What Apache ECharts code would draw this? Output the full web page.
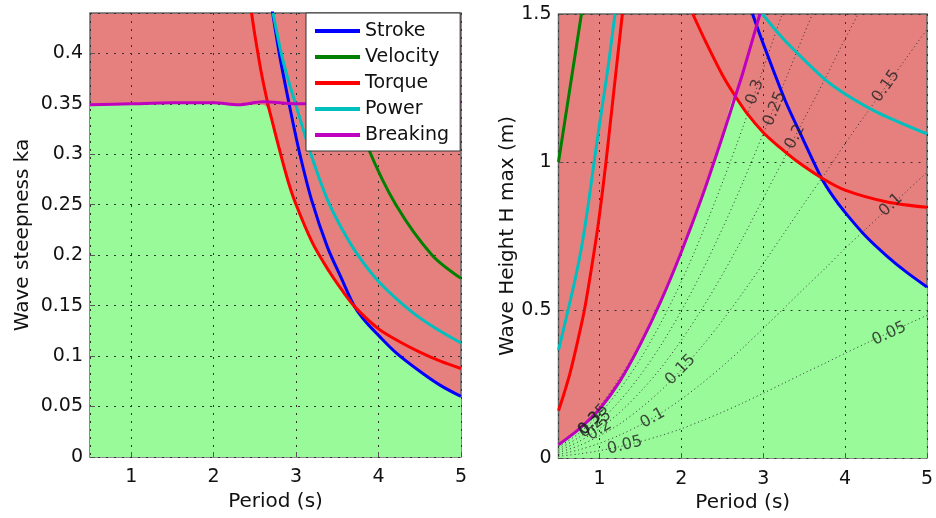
<!DOCTYPE html>
<html><head><meta charset="utf-8">
<script src="https://cdn.jsdelivr.net/npm/echarts@6/dist/echarts.min.js"></script>
<style>html,body{margin:0;padding:0;background:#fff}#c{width:936px;height:518px}</style>
</head><body><div id="c"></div>
<script>
// ---------- Left panel: wave steepness ka vs period (s) ----------
const strokeKa   = [[2.70,0.448],[2.80,0.398],[2.92,0.348],[3.04,0.302],[3.19,0.254],[3.38,0.208],[3.55,0.177],[3.71,0.149],[3.85,0.1335],[4.00,0.1205],[4.21,0.1035],[4.50,0.085],[4.75,0.071],[5.00,0.060]];
const velocityKa = [[3.40,0.44],[3.60,0.37],[3.87,0.307],[4.21,0.25],[4.65,0.20],[5.00,0.177]];
const torqueKa   = [[2.46,0.44],[2.50,0.418],[2.58,0.38],[2.66,0.349],[2.70,0.336],[2.79,0.307],[2.90,0.274],[3.00,0.250],[3.20,0.212],[3.40,0.184],[3.55,0.166],[3.71,0.149],[4.00,0.127],[4.25,0.1145],[4.50,0.104],[4.75,0.095],[5.00,0.0877]];
const powerKa    = [[2.72,0.44],[2.82,0.40],[2.90,0.375],[3.00,0.348],[3.20,0.295],[3.39,0.253],[3.55,0.227],[3.75,0.200],[4.00,0.174],[4.40,0.144],[4.70,0.127],[5.00,0.113]];
const breakingKa = [[0.5,0.349],[1.0,0.350],[1.5,0.351],[2.0,0.351],[2.3,0.349],[2.6,0.352],[3.0,0.350],[3.5,0.351],[4.0,0.350],[4.5,0.351],[5.0,0.352]];
const feasibleKa = [[0.5,0.349],[1.0,0.350],[1.5,0.351],[2.0,0.351],[2.3,0.349],[2.60,0.349],[2.70,0.336],[2.79,0.307],[2.90,0.274],[3.00,0.250],[3.20,0.212],[3.40,0.184],[3.55,0.166],[3.71,0.149],[3.85,0.1335],[4.00,0.1205],[4.21,0.1035],[4.50,0.085],[4.75,0.071],[5.00,0.060]];

// ---------- Right panel: wave height H max (m) vs period (s) ----------
const velocityH  = [[0.5,1.0],[0.64,1.25],[0.78,1.5]];
const powerH1    = [[0.5,0.364],[0.6,0.48],[0.7,0.60],[0.78,0.71],[0.86,0.85],[0.93,0.99],[1.0,1.125],[1.1,1.31],[1.19,1.5]];
const powerH2    = [[2.99,1.5],[3.2,1.43],[3.39,1.375],[3.75,1.28],[4.0,1.23],[4.4,1.167],[5.0,1.095]];
const torqueH1   = [[0.5,0.16],[0.57,0.22],[0.64,0.286],[0.73,0.39],[0.82,0.505],[0.94,0.706],[1.0,0.82],[1.08,1.0],[1.16,1.2],[1.28,1.5]];
const torqueH2   = [[2.14,1.5],[2.3,1.405],[2.5,1.295],[2.66,1.222],[2.8,1.165],[3.0,1.10],[3.2,1.05],[3.4,1.005],[3.71,0.947],[4.0,0.905],[4.5,0.866],[5.0,0.847]];
const strokeH    = [[2.87,1.5],[3.0,1.40],[3.27,1.207],[3.49,1.075],[3.71,0.947],[3.85,0.885],[4.0,0.83],[4.25,0.75],[4.5,0.685],[4.75,0.628],[5.0,0.578]];
const breakingH  = [[0.5,0.045],[0.75,0.098],[1.0,0.165],[1.25,0.26],[1.5,0.385],[1.75,0.53],[2.0,0.696],[2.25,0.88],[2.5,1.084],[2.66,1.222],[2.75,1.30],[2.96,1.5]];
const feasibleH  = [[0.5,0.045],[0.75,0.098],[1.0,0.165],[1.25,0.26],[1.5,0.385],[1.75,0.53],[2.0,0.696],[2.25,0.88],[2.5,1.084],[2.66,1.222],[2.8,1.165],[3.0,1.10],[3.2,1.05],[3.4,1.005],[3.71,0.947],[3.85,0.885],[4.0,0.83],[4.25,0.75],[4.5,0.685],[4.75,0.628],[5.0,0.578]];

// steepness contours (ka = 0.05 ... 0.35) in the H-T plane
const contourT = [0.5,0.75,1,1.25,1.5,1.75,2,2.25,2.5,2.75,3,3.25,3.5,3.75,4,4.25,4.5,4.75,5];
const contourLevels = ['0.05','0.1','0.15','0.2','0.25','0.3','0.35'];
const contourH = [
  [0.0062,0.014,0.025,0.039,0.056,0.076,0.099,0.126,0.155,0.186,0.219,0.253,0.287,0.320,0.354,0.387,0.419,0.451,0.482],
  [0.012,0.028,0.050,0.078,0.112,0.152,0.199,0.252,0.310,0.372,0.438,0.505,0.573,0.639,0.708,0.773,0.837,0.901,0.965],
  [0.019,0.042,0.075,0.116,0.168,0.228,0.298,0.377,0.464,0.558,0.657,0.758,0.860,0.959,1.062,1.160,1.256,1.352,1.448],
  [0.025,0.056,0.099,0.155,0.224,0.304,0.398,0.503,0.619,0.744,0.877,1.010,1.146,1.278,1.416,1.546,1.674],
  [0.031,0.070,0.124,0.194,0.280,0.381,0.497,0.629,0.774,0.930,1.096,1.263,1.433,1.598],
  [0.037,0.084,0.149,0.233,0.335,0.457,0.596,0.755,0.929,1.116,1.315,1.515],
  [0.043,0.098,0.174,0.272,0.391,0.533,0.696,0.880,1.084,1.302,1.534]
];
// contour label texts, their level index and positions (T, H)
const labelText  = ['0.05','0.1','0.15','0.2','0.25','0.3','0.35','0.05','0.1','0.15','0.2','0.25','0.3'];
const labelLevel = [0,1,2,3,4,5,6,0,1,2,3,4,5];
const labelT     = [1.31,1.65,1.99,1.00,0.95,0.88,0.93,4.54,4.56,4.50,3.39,3.14,2.90];
const labelH     = [0.043,0.135,0.298,0.095,0.115,0.115,0.13,0.42,0.855,1.256,1.085,1.18,1.236];

const seriesNames = ['Stroke','Velocity','Torque','Power','Breaking'];

// ---------- styles ----------
const FONT = 'DejaVu Sans';
const COL = {Stroke:'#0000FF', Velocity:'#008000', Torque:'#FF0000', Power:'#00BFBF', Breaking:'#BF00BF'};
const RED_BG = '#E6807E', GREEN = '#98FA98';

function curve(name, data, gi, z) {
  return {name, type:'line', xAxisIndex:gi, yAxisIndex:gi, data, symbol:'none', smooth:0.3,
    lineStyle:{color:COL[name], width:3}, itemStyle:{color:COL[name]}, z, silent:true, clip:true};
}
function area(data, gi) {
  return {type:'line', xAxisIndex:gi, yAxisIndex:gi, data, symbol:'none', smooth:0.3,
    lineStyle:{width:0}, areaStyle:{color:GREEN, opacity:1}, z:1, silent:true};
}
function xAx(gi) {
  return {type:'value', gridIndex:gi, min:0.5, max:5, splitNumber:5, z:2,
    name:'Period (s)', nameLocation:'middle', nameGap:31,
    nameTextStyle:{fontFamily:FONT, fontSize:20, color:'#111'},
    axisLabel:{showMinLabel:false, fontFamily:FONT, fontSize:19, color:'#111', margin:11},
    axisLine:{show:false}, axisTick:{show:true, inside:true, length:5, lineStyle:{color:'#555'}},
    splitLine:{show:true, lineStyle:{color:'#333', width:1, type:[2,6]}}};
}
function yAx(gi, max, interval, name, gap) {
  return {type:'value', gridIndex:gi, min:0, max, interval, z:2,
    name, nameLocation:'middle', nameGap:gap,
    nameTextStyle:{fontFamily:FONT, fontSize:20, color:'#111'},
    axisLabel:{showMaxLabel: max===1.5, fontFamily:FONT, fontSize:19, color:'#111', margin:7},
    axisLine:{show:false}, axisTick:{show:true, inside:true, length:5, lineStyle:{color:'#555'}},
    splitLine:{show:true, lineStyle:{color:'#333', width:1, type:[2,6]}}};
}

const series = [
  area(feasibleKa, 0),
  curve('Stroke', strokeKa, 0, 4),
  curve('Velocity', velocityKa, 0, 4),
  curve('Torque', torqueKa, 0, 4),
  curve('Power', powerKa, 0, 4),
  curve('Breaking', breakingKa, 0, 4),
  area(feasibleH, 1)
];
contourH.forEach((hs, i) => {
  series.push({type:'line', xAxisIndex:1, yAxisIndex:1, data: hs.map((h, j) => [contourT[j], h]),
    symbol:'none', smooth:0.3, lineStyle:{color:'#333', width:1, type:[1,3]}, z:3, silent:true});
});
series.push(curve('Stroke', strokeH, 1, 4));
series.push(curve('Velocity', velocityH, 1, 4));
series.push(curve('Torque', torqueH1, 1, 4));
series.push(curve('Torque', torqueH2, 1, 4));
series.push(curve('Power', powerH1, 1, 4));
series.push(curve('Power', powerH2, 1, 4));
series.push(curve('Breaking', breakingH, 1, 4));

const option = {
  animation:false,
  backgroundColor:'#fff',
  textStyle:{fontFamily:FONT},
  grid:[
    {left:90, top:13, width:371, height:444, show:true, backgroundColor:RED_BG, borderColor:'#666', borderWidth:1.5, containLabel:false},
    {left:558.5, top:14, width:371.5, height:446, show:true, backgroundColor:RED_BG, borderColor:'#666', borderWidth:1.5, containLabel:false}
  ],
  xAxis:[xAx(0), xAx(1)],
  yAxis:[yAx(0, 0.44, 0.05, 'Wave steepness ka', 57), yAx(1, 1.5, 0.5, 'Wave Height H max (m)', 41)],
  legend:{data:seriesNames, orient:'vertical', left:306, top:13, icon:'rect', itemWidth:45, itemHeight:4,
    itemGap:6, padding:[8,11,6,9], backgroundColor:'#fff', borderColor:'#333', borderWidth:1,
    selectedMode:false, z:10, textStyle:{fontFamily:FONT, fontSize:19, color:'#111', lineHeight:20}},
  series
};

const chart = echarts.init(document.getElementById('c'));
chart.setOption(option);

// contour labels, rotated along their contour
const labelData = labelText.map((txt, k) => {
  const lv = labelLevel[k], hs = contourH[lv];
  let j = 0;
  while (j < hs.length - 2 && contourT[j + 1] < labelT[k]) j++;
  const p1 = chart.convertToPixel({gridIndex:1}, [contourT[j], hs[j]]);
  const p2 = chart.convertToPixel({gridIndex:1}, [contourT[j + 1], hs[j + 1]]);
  const ang = Math.atan2(-(p2[1] - p1[1]), p2[0] - p1[0]) * 180 / Math.PI;
  return {value:[labelT[k], labelH[k]], label:{formatter:txt, rotate:ang}};
});
series.push({type:'scatter', xAxisIndex:1, yAxisIndex:1, symbolSize:0, z:5, silent:true,
  label:{show:true, position:'inside', fontFamily:FONT, fontSize:16, color:'#222', align:'center', verticalAlign:'middle'},
  data:labelData});
chart.setOption({series});
</script>
</body></html>
